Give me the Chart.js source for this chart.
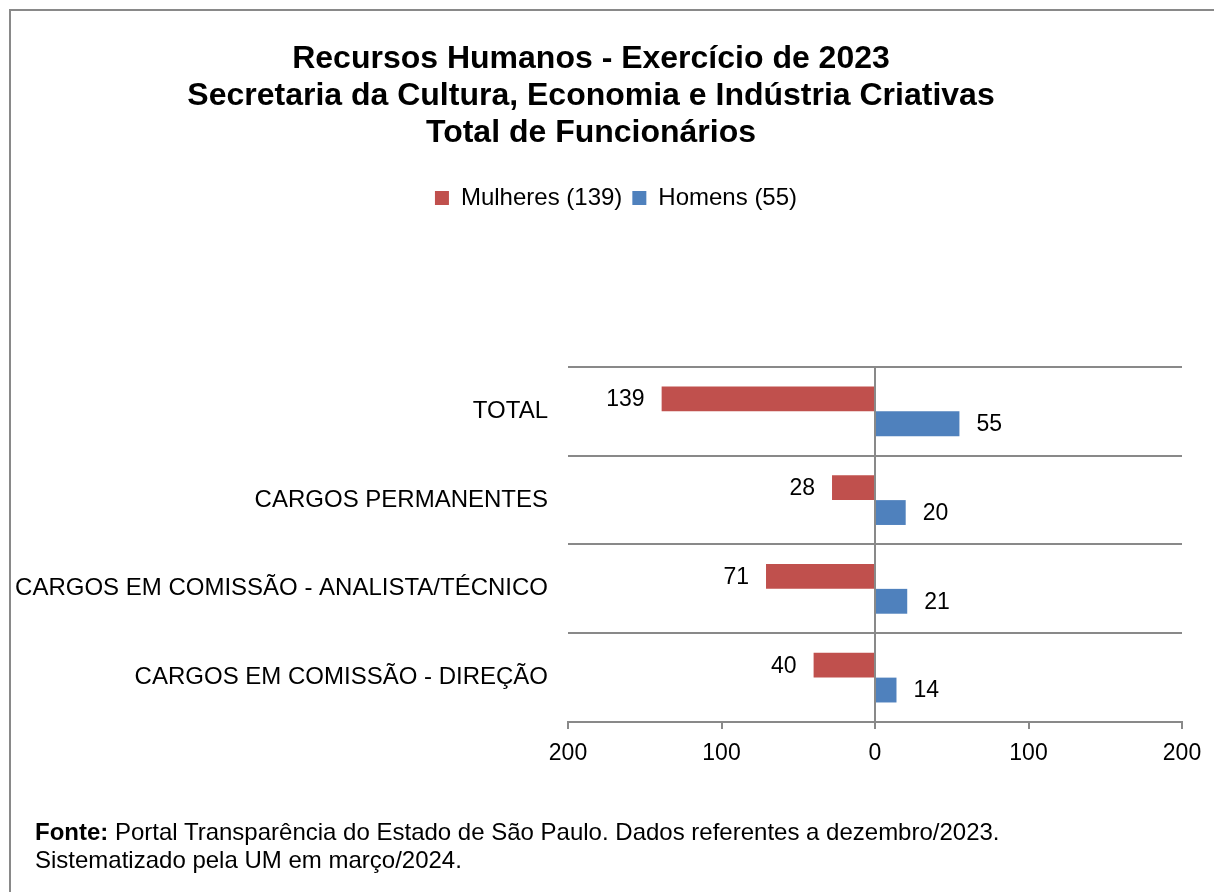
<!DOCTYPE html>
<html>
<head>
<meta charset="utf-8">
<script src="https://cdn.jsdelivr.net/npm/chart.js@4/dist/chart.umd.min.js"></script>
<style>
  body { margin: 0; background: #fff; overflow: hidden; }
  #frame {
    position: absolute; left: 9px; top: 9px; width: 1400px; height: 1000px;
    border-left: 2px solid #898989; border-top: 2px solid #898989;
  }
  #chart { position: absolute; left: 0; top: 0; }
  #fonte {
    position: absolute; left: 35px; top: 818px;
    font-family: "Liberation Sans", Arial, sans-serif; font-size: 24px; line-height: 28px; color: #000;
  }
</style>
</head>
<body>
<div id="frame"></div>
<canvas id="chart" width="1214" height="892"></canvas>
<div id="fonte"><b>Fonte:</b> Portal Transparência do Estado de São Paulo. Dados referentes a dezembro/2023.<br>Sistematizado pela UM em março/2024.</div>
<script>
// Dados
const categorias = ['TOTAL', 'CARGOS PERMANENTES', 'CARGOS EM COMISSÃO - ANALISTA/TÉCNICO', 'CARGOS EM COMISSÃO - DIREÇÃO'];
const mulheres = [139, 28, 71, 40];
const homens = [55, 20, 21, 14];
const tituloLinhas = ['Recursos Humanos - Exercício de 2023', 'Secretaria da Cultura, Economia e Indústria Criativas', 'Total de Funcionários'];
const legendaMulheres = 'Mulheres (139)';
const legendaHomens = 'Homens (55)';

const FONT = '"Liberation Sans", Arial, sans-serif';
const GRID = '#898989';

// labels at the end of each bar
const barLabels = {
    id: 'barLabels',
    afterDatasetsDraw(chart) {
        const ctx = chart.ctx;
        ctx.save();
        ctx.font = '23px ' + FONT;
        ctx.fillStyle = '#000';
        ctx.textBaseline = 'middle';
        chart.data.datasets.forEach((ds, i) => {
            chart.getDatasetMeta(i).data.forEach((bar, j) => {
                const v = ds.data[j];
                if (v < 0) {
                    ctx.textAlign = 'right';
                    ctx.fillText(Math.abs(v), bar.x - 17, bar.y + 1);
                } else {
                    ctx.textAlign = 'left';
                    ctx.fillText(v, bar.x + 17, bar.y + 1);
                }
            });
        });
        ctx.restore();
    }
};

// extra room under the legend, and nudge it right a bit
const legendGap = {
    id: 'legendGap',
    beforeUpdate(chart) {
        const legend = chart.legend;
        if (legend && !legend._gapDone) {
            const fit = legend.fit;
            legend.fit = function () {
                fit.call(this);
                this.height += 147;
            };
            legend._gapDone = true;
        }
    },
    afterLayout(chart) {
        chart.legend.left += 25;
        chart.legend.right += 25;
    }
};

new Chart(document.getElementById('chart'), {
    type: 'bar',
    data: {
        labels: categorias,
        datasets: [
            {
                label: legendaMulheres,
                data: mulheres.map(v => -v),
                backgroundColor: '#C0504D',
                barPercentage: 1,
                categoryPercentage: 0.56
            },
            {
                label: legendaHomens,
                data: homens,
                backgroundColor: '#4F81BD',
                barPercentage: 1,
                categoryPercentage: 0.56
            }
        ]
    },
    options: {
        indexAxis: 'y',
        responsive: false,
        animation: false,
        layout: { padding: { left: 0, right: 32, top: 0, bottom: 0 } },
        plugins: {
            title: {
                display: true,
                text: tituloLinhas,
                color: '#000',
                font: { family: FONT, size: 32, weight: 'bold', lineHeight: 1.156 },
                padding: { top: 41, bottom: 24 }
            },
            legend: {
                display: true,
                labels: {
                    color: '#000',
                    font: { family: FONT, size: 24 },
                    boxWidth: 14,
                    boxHeight: 14,
                    padding: 10
                }
            },
            tooltip: { enabled: false }
        },
        scales: {
            x: {
                min: -200,
                max: 200,
                ticks: {
                    stepSize: 100,
                    color: '#000',
                    font: { family: FONT, size: 23 },
                    padding: 11,
                    callback: v => Math.abs(v)
                },
                grid: {
                    color: c => (c.tick && c.tick.value === 0 ? GRID : 'rgba(0,0,0,0)'),
                    tickColor: GRID,
                    lineWidth: 2,
                    tickLength: 7
                },
                border: { display: true, color: GRID, width: 2 },
                afterFit: s => { s.height = 170; }
            },
            y: {
                ticks: {
                    color: '#000',
                    font: { family: FONT, size: 24 },
                    padding: 20
                },
                grid: { color: GRID, lineWidth: 2, drawTicks: false, offset: true },
                border: { display: false },
                afterFit: s => { s.width = 568; }
            }
        }
    },
    plugins: [barLabels, legendGap]
});
</script>
</body>
</html>
